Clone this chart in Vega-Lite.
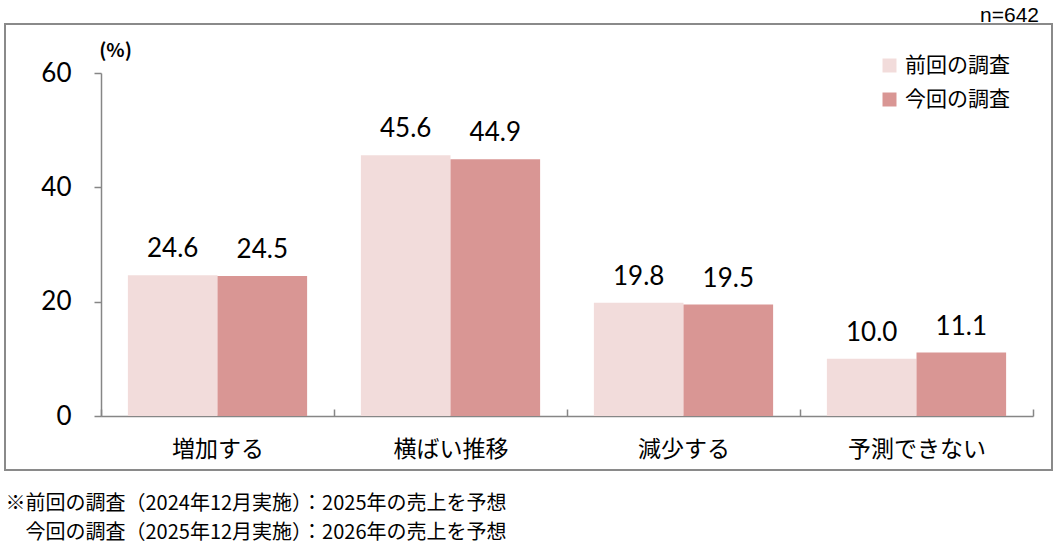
{
  "$schema": "https://vega.github.io/schema/vega-lite/v6.json",
  "width": 1047,
  "height": 446,
  "autosize": "none",
  "padding": {"left": 5, "top": 24, "right": 9, "bottom": 77},
  "background": "white",
  "title": {
    "text": "n=642",
    "orient": "top",
    "anchor": "end",
    "frame": "group",
    "font": "Liberation Sans",
    "fontSize": 21,
    "fontWeight": "normal",
    "color": "#000000",
    "offset": -2,
    "dx": -13
  },
  "config": {
    "view": {"stroke": "#8a8a8a", "strokeWidth": 2},
    "font": "Noto Sans CJK JP"
  },
  "data": {
    "values": [
      {"category": "増加する", "series": "前回の調査", "value": 24.6},
      {"category": "増加する", "series": "今回の調査", "value": 24.5},
      {"category": "横ばい推移", "series": "前回の調査", "value": 45.6},
      {"category": "横ばい推移", "series": "今回の調査", "value": 44.9},
      {"category": "減少する", "series": "前回の調査", "value": 19.8},
      {"category": "減少する", "series": "今回の調査", "value": 19.5},
      {"category": "予測できない", "series": "前回の調査", "value": 10.0},
      {"category": "予測できない", "series": "今回の調査", "value": 11.1}
    ]
  },
  "encoding": {
    "x": {
      "field": "category",
      "type": "nominal",
      "sort": ["増加する", "横ばい推移", "減少する", "予測できない"],
      "scale": {"range": [96, 1028], "paddingInner": 0, "paddingOuter": 0},
      "axis": {
        "title": ["※前回の調査（2024年12月実施）：2025年の売上を予想", "\u200b\u3000今回の調査（2025年12月実施）：2026年の売上を予想"],
        "orient": "bottom",
        "offset": -54,
        "labelAngle": 0,
        "labelFont": "Noto Sans CJK JP",
        "labelFontSize": 23,
        "labelColor": "#000000",
        "labelPadding": 29,
        "tickBand": "extent",
        "tickSize": -7,
        "tickColor": "#868686",
        "tickWidth": 1.5,
        "domainColor": "#868686",
        "domainWidth": 1.5,
        "grid": false,
        "titleX": 0,
        "titleY": 93,
        "titleAlign": "left",
        "titleAnchor": "start",
        "titleBaseline": "alphabetic",
        "titleFont": "Noto Sans CJK JP",
        "titleFontSize": 20,
        "titleFontWeight": "normal",
        "titleLineHeight": 29,
        "titleColor": "#000000"
      }
    },
    "xOffset": {
      "field": "series",
      "type": "nominal",
      "sort": ["前回の調査", "今回の調査"],
      "scale": {"paddingInner": 0, "paddingOuter": 0.3}
    },
    "y": {
      "field": "value",
      "type": "quantitative",
      "scale": {"domain": [0, 60], "range": [392, 49], "nice": false, "zero": true},
      "axis": {
        "title": "(%)",
        "values": [0, 20, 40, 60],
        "offset": -96,
        "grid": false,
        "tickSize": 7,
        "labelPadding": 23,
        "labelFont": "Lato",
        "labelFontSize": 26,
        "labelColor": "#000000",
        "domainColor": "#868686",
        "domainWidth": 1.5,
        "tickColor": "#868686",
        "tickWidth": 1.5,
        "titleAngle": 0,
        "titleX": 14,
        "titleY": 26,
        "titleAlign": "center",
        "titleBaseline": "middle",
        "titleFont": "Noto Sans CJK JP",
        "titleFontSize": 19,
        "titleFontWeight": "bold",
        "titleColor": "#000000"
      }
    }
  },
  "layer": [
    {
      "mark": {"type": "bar"},
      "encoding": {
        "color": {
          "field": "series",
          "type": "nominal",
          "sort": ["前回の調査", "今回の調査"],
          "scale": {"domain": ["前回の調査", "今回の調査"], "range": ["#F2DCDB", "#D99694"]},
          "legend": {
            "title": null,
            "orient": "none",
            "legendX": 874,
            "legendY": 31,
            "symbolType": "square",
            "symbolSize": 196,
            "symbolStrokeWidth": 0,
            "labelFont": "Noto Sans CJK JP",
            "labelFontSize": 21,
            "labelColor": "#000000",
            "labelOffset": 5,
            "rowPadding": 12,
            "padding": 0
          }
        }
      }
    },
    {
      "mark": {"type": "text", "baseline": "alphabetic", "dy": -18, "font": "Lato", "fontSize": 26, "color": "#000000"},
      "encoding": {
        "text": {"field": "value", "type": "quantitative", "format": ".1f"}
      }
    }
  ]
}
